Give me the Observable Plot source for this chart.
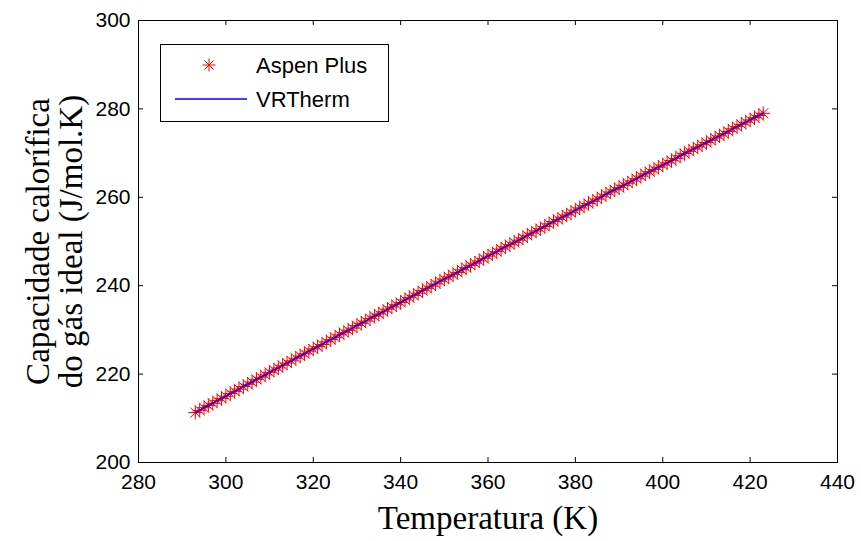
<!DOCTYPE html>
<html><head><meta charset="utf-8">
<script src="https://cdn.jsdelivr.net/npm/d3@7"></script>
<script src="https://cdn.jsdelivr.net/npm/@observablehq/plot@0.6"></script>
<style>
html,body{margin:0;padding:0;background:#fff;}
#wrap{position:relative;width:861px;height:541px;overflow:hidden;}
#legend{position:absolute;left:160px;top:44px;}
</style></head><body>
<div id="wrap"></div>
<script>
const temperatures = [293,294,295,296,297,298,299,300,301,302,303,304,305,306,307,308,309,310,311,312,313,314,315,316,317,318,319,320,321,322,323,324,325,326,327,328,329,330,331,332,333,334,335,336,337,338,339,340,341,342,343,344,345,346,347,348,349,350,351,352,353,354,355,356,357,358,359,360,361,362,363,364,365,366,367,368,369,370,371,372,373,374,375,376,377,378,379,380,381,382,383,384,385,386,387,388,389,390,391,392,393,394,395,396,397,398,399,400,401,402,403,404,405,406,407,408,409,410,411,412,413,414,415,416,417,418,419,420,421,422,423];
const aspenCp = [211.3,211.8,212.4,212.9,213.4,214.0,214.5,215.0,215.6,216.1,216.6,217.2,217.7,218.2,218.8,219.3,219.8,220.4,220.9,221.4,222.0,222.5,223.0,223.6,224.1,224.6,225.2,225.7,226.2,226.7,227.3,227.8,228.3,228.9,229.4,229.9,230.4,231.0,231.5,232.0,232.6,233.1,233.6,234.1,234.7,235.2,235.7,236.2,236.8,237.3,237.8,238.3,238.9,239.4,239.9,240.4,241.0,241.5,242.0,242.5,243.0,243.6,244.1,244.6,245.1,245.6,246.2,246.7,247.2,247.7,248.3,248.8,249.3,249.8,250.3,250.8,251.4,251.9,252.4,252.9,253.4,254.0,254.5,255.0,255.5,256.0,256.5,257.1,257.6,258.1,258.6,259.1,259.6,260.1,260.7,261.2,261.7,262.2,262.7,263.2,263.7,264.2,264.8,265.3,265.8,266.3,266.8,267.3,267.8,268.3,268.8,269.4,269.9,270.4,270.9,271.4,271.9,272.4,272.9,273.4,273.9,274.4,274.9,275.5,276.0,276.5,277.0,277.5,278.0,278.5,279.0];
const vrthermCp = [211.3,211.8,212.4,212.9,213.4,214.0,214.5,215.0,215.6,216.1,216.6,217.2,217.7,218.2,218.8,219.3,219.8,220.4,220.9,221.4,222.0,222.5,223.0,223.6,224.1,224.6,225.2,225.7,226.2,226.7,227.3,227.8,228.3,228.9,229.4,229.9,230.4,231.0,231.5,232.0,232.6,233.1,233.6,234.1,234.7,235.2,235.7,236.2,236.8,237.3,237.8,238.3,238.9,239.4,239.9,240.4,241.0,241.5,242.0,242.5,243.0,243.6,244.1,244.6,245.1,245.6,246.2,246.7,247.2,247.7,248.3,248.8,249.3,249.8,250.3,250.8,251.4,251.9,252.4,252.9,253.4,254.0,254.5,255.0,255.5,256.0,256.5,257.1,257.6,258.1,258.6,259.1,259.6,260.1,260.7,261.2,261.7,262.2,262.7,263.2,263.7,264.2,264.8,265.3,265.8,266.3,266.8,267.3,267.8,268.3,268.8,269.4,269.9,270.4,270.9,271.4,271.9,272.4,272.9,273.4,273.9,274.4,274.9,275.5,276.0,276.5,277.0,277.5,278.0,278.5,279.0];
const xTicks = [280,300,320,340,360,380,400,420,440];
const yTicks = [200,220,240,260,280,300];
const xLabel = "Temperatura (K)";
const yLabel = "Capacidade calorífica\ndo gás ideal (J/mol.K)";
const seriesNames = ["Aspen Plus","VRTherm"];

// 8-armed MATLAB-style asterisk
const star8 = {draw(ctx, size){
  const r = Math.sqrt(size/Math.PI), d = r*0.7071;
  ctx.moveTo(-r,0); ctx.lineTo(r,0);
  ctx.moveTo(0,-r); ctx.lineTo(0,r);
  ctx.moveTo(-d,-d); ctx.lineTo(d,d);
  ctx.moveTo(-d,d); ctx.lineTo(d,-d);
}};

const W = 861, H = 541, mL = 138, mR = 24, mT = 20, mB = 79;
const innerW = W - mL - mR, innerH = H - mT - mB, tick = 5;
const data = temperatures.map((t,i)=>({t, aspen: aspenCp[i], vr: vrthermCp[i]}));
const serif = "'Liberation Serif','Times New Roman',serif";

const plot = Plot.plot({
  width: W, height: H, marginLeft: mL, marginRight: mR, marginTop: mT, marginBottom: mB,
  style: {fontFamily: "'Liberation Sans',Arial,sans-serif", fontSize: "21px", background: "#fff", color: "#000"},
  x: {domain: [280,440], label: null},
  y: {domain: [200,300], label: null},
  marks: [
    Plot.dot(data, {x: "t", y: "aspen", symbol: star8, r: 7, stroke: "#ff0000", strokeWidth: 1, fill: "none"}),
    Plot.line(data, {x: "t", y: "vr", stroke: "#0000ff", strokeWidth: 1.5}),
    Plot.ruleX(xTicks, {x: d=>d, insetTop: innerH - tick, stroke: "#000"}),
    Plot.ruleX(xTicks, {x: d=>d, insetBottom: innerH - tick, stroke: "#000"}),
    Plot.ruleY(yTicks, {y: d=>d, insetRight: innerW - tick, stroke: "#000"}),
    Plot.ruleY(yTicks, {y: d=>d, insetLeft: innerW - tick, stroke: "#000"}),
    Plot.frame({stroke: "#000", strokeWidth: 1}),
    Plot.axisX({ticks: xTicks, tickSize: 0, tickPadding: 12, label: null, fontSize: 21}),
    Plot.axisY({ticks: yTicks, tickSize: 0, tickPadding: 8, label: null, fontSize: 21}),
    Plot.text([xLabel], {frameAnchor: "bottom", dy: 56, lineAnchor: "middle", fontFamily: serif, fontSize: 33, fill: "#000"}),
    Plot.text([yLabel], {frameAnchor: "left", dx: -84, rotate: -90, textAnchor: "middle", lineAnchor: "middle", lineHeight: 1, fontFamily: serif, fontSize: 33, fill: "#000"})
  ]
});
const wrap = document.getElementById("wrap");
wrap.appendChild(plot);

// legend
const lg = d3.create("svg").attr("id","legend").attr("width",230).attr("height",79)
  .style("font-family","'Liberation Sans',Arial,sans-serif").style("font-size","22px");
lg.append("rect").attr("x",0.5).attr("y",0.5).attr("width",228).attr("height",77).attr("fill","#fff").attr("stroke","#000");
const symPath = d3.symbol(star8, Math.PI*6.5*6.5)();
lg.append("path").attr("d",symPath).attr("transform","translate(49,21)").attr("stroke","#ff0000").attr("fill","none");
lg.append("line").attr("x1",15).attr("x2",87).attr("y1",55).attr("y2",55).attr("stroke","#0000ff").attr("stroke-width",1.5);
lg.append("text").attr("x",96).attr("y",21).attr("dy","0.35em").text(seriesNames[0]);
lg.append("text").attr("x",96).attr("y",55).attr("dy","0.35em").text(seriesNames[1]);
wrap.appendChild(lg.node());
</script>
</body></html>
